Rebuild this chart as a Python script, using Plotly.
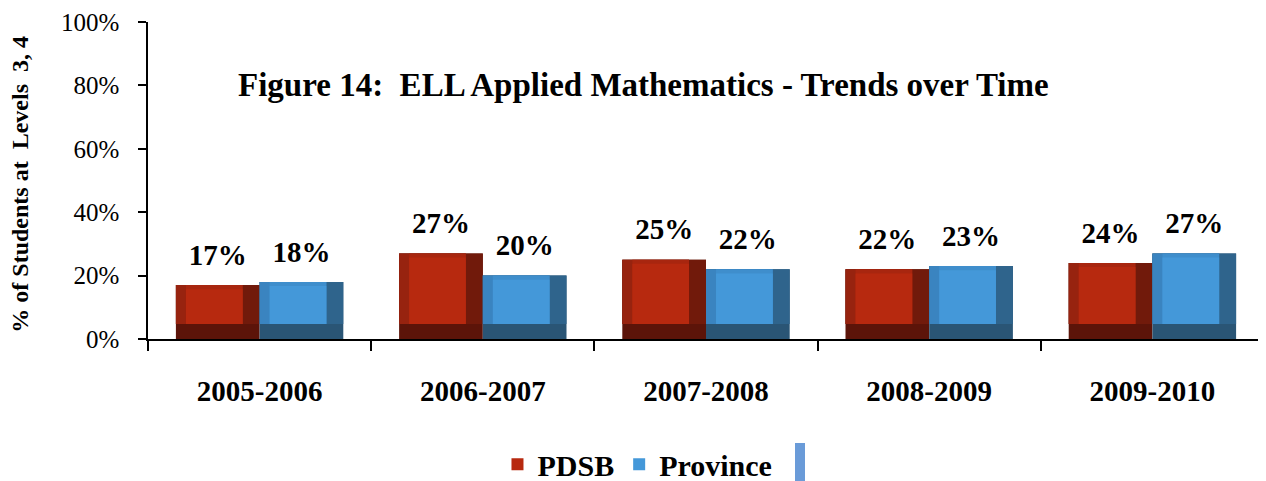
import plotly.graph_objects as go

years = ["2005-2006", "2006-2007", "2007-2008", "2008-2009", "2009-2010"]
pdsb = [17, 27, 25, 22, 24]
province = [18, 20, 22, 23, 27]
series_names = ["PDSB", "Province"]
y_ticks = [0, 20, 40, 60, 80, 100]
y_tick_labels = ["0%", "20%", "40%", "60%", "80%", "100%"]

FONT = "'Liberation Serif', serif"
BW = 0.375          # bar width in category units
LB, RB = 0.045, 0.076   # left / right bevel widths
BB, TB = 4.7, 1.3       # bottom / top bevel heights (axis units)
LABEL_GAP = 3.6

palettes = {
    "PDSB": dict(bottom="#5C1409", right="#711A0B", left="#97230F", face="#B7290F", top="#A8260F"),
    "Province": dict(bottom="#2A5575", right="#2F648C", left="#3A84C0", face="#4498D9", top="#3F8ECC"),
}

fig = go.Figure()
for name, vals, off in [("PDSB", pdsb, -BW), ("Province", province, 0.0)]:
    p = palettes[name]
    common = dict(x=years, hoverinfo="skip", showlegend=False)
    fig.add_trace(go.Bar(y=vals, offset=off, width=BW,
                         marker=dict(color=p["bottom"], line=dict(width=0)), **common))
    fig.add_trace(go.Bar(y=[v - BB for v in vals], base=BB, offset=off, width=BW,
                         marker=dict(color=p["right"], line=dict(width=0)), **common))
    fig.add_trace(go.Bar(y=[v - BB for v in vals], base=BB, offset=off, width=BW - RB,
                         marker=dict(color=p["left"], line=dict(width=0)), **common))
    fig.add_trace(go.Bar(y=[v - BB for v in vals], base=BB, offset=off + LB, width=BW - LB - RB,
                         marker=dict(color=p["top"], line=dict(width=0)), **common))
    fig.add_trace(go.Bar(x=years, y=[v - BB - TB for v in vals], base=BB,
                         offset=off + LB, width=BW - LB - RB, name=name,
                         marker=dict(color=p["face"], line=dict(width=0)),
                         hoverinfo="skip", showlegend=True))
    fig.add_trace(go.Bar(y=[v + LABEL_GAP for v in vals], offset=off, width=BW,
                         marker=dict(color="rgba(0,0,0,0)", line=dict(width=0)),
                         text=[f"{v}%" for v in vals], textposition="outside",
                         textfont=dict(family=FONT, size=29, color="black", weight="bold"),
                         cliponaxis=False, **common))

fig.update_layout(
    width=1258, height=473,
    barmode="overlay",
    paper_bgcolor="white", plot_bgcolor="white",
    margin=dict(l=140, r=2, t=14, b=142, autoexpand=False),
    font=dict(family=FONT, color="black"),
    xaxis=dict(type="category", showline=True, linecolor="black", linewidth=1.5,
               ticks="outside", tickson="boundaries", ticklen=10, tickcolor="black",
               tickwidth=1.5, ticklabelstandoff=25, automargin=False,
               tickfont=dict(family=FONT, size=29, color="black", weight="bold"),
               showgrid=False, range=[-0.5, 4.5]),
    yaxis=dict(range=[0, 100], tickvals=y_ticks, ticktext=y_tick_labels,
               showline=True, linecolor="black", linewidth=1.5, ticks="outside",
               ticklen=8, tickcolor="black", tickwidth=1.5, showgrid=False,
               zeroline=False, ticklabelstandoff=14, automargin=False,
               tickfont=dict(family=FONT, size=25, color="black")),
    legend=dict(orientation="h", x=0.4386, xanchor="center", y=-0.395, yanchor="middle",
                font=dict(family=FONT, size=30, color="black", weight="bold"),
                itemwidth=30, traceorder="normal", bgcolor="rgba(0,0,0,0)"),
    showlegend=True,
    annotations=[
        dict(text="Figure 14:  ELL Applied Mathematics - Trends over Time",
             xref="paper", yref="paper", x=0.444, y=0.80, xanchor="center", yanchor="middle",
             showarrow=False, font=dict(family=FONT, size=33, color="black", weight="bold")),
        dict(text="% of Students at  Levels  3, 4",
             xref="paper", yref="paper", x=-0.1147, y=0.49, xanchor="center", yanchor="middle",
             textangle=-90, showarrow=False,
             font=dict(family=FONT, size=24, color="black", weight="bold")),
    ],
    shapes=[dict(type="rect", xref="paper", yref="paper",
                 x0=(795 - 148) / 1116, x1=(805 - 148) / 1116,
                 y0=(339 - 443) / 317, y1=(339 - 481) / 317,
                 fillcolor="#6A9BD8", line=dict(width=0), layer="above")],
)

fig.write_html("out.html")
